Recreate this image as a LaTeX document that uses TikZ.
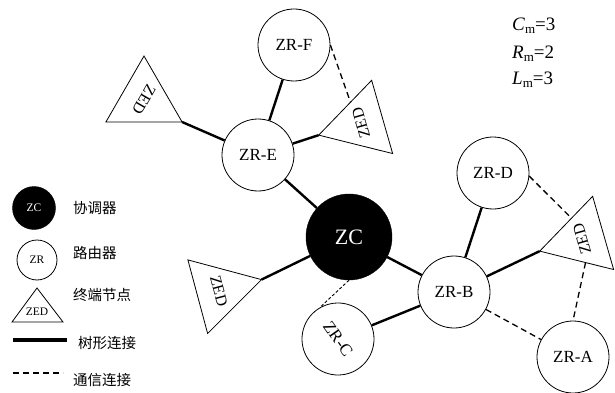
\documentclass[tikz,border=0pt]{standalone}
\usepackage{fontspec}
\setmainfont{Liberation Serif}
\newfontfamily\cjk{Noto Sans CJK SC}
\usetikzlibrary{shapes.geometric,calc}
\begin{document}
\begin{tikzpicture}[x=1pt,y=-1pt,
  router/.style={circle,draw,line width=0.8pt,minimum size=72pt,inner sep=0pt,font=\fontsize{17}{17}\selectfont},
  coord/.style={circle,draw,fill=black,minimum size=86pt,inner sep=0pt,text=white,font=\fontsize{22}{22}\selectfont},
  zed/.style={regular polygon,regular polygon sides=3,draw,line width=0.8pt,minimum size=72pt,inner sep=0pt,outer sep=0pt,font=\fontsize{16}{16}\selectfont},
  tree/.style={line width=2.4pt},
  comm/.style={line width=1.3pt,dash pattern=on 6pt off 4pt},
  fine/.style={line width=0.9pt,dash pattern=on 3pt off 2pt},
  legtext/.style={anchor=west,font=\cjk\fontsize{14.5}{14.5}\selectfont,inner sep=0pt},
  legsmall/.style={font=\fontsize{11.5}{11.5}\selectfont},
  param/.style={anchor=west,inner sep=0pt,font=\fontsize{19}{19}\selectfont}
]
\useasboundingbox (0,0) rectangle (615,393);

% main nodes
\node[router] (zrf) at (294,45) {ZR-F};
\node[router] (zre) at (258,155) {ZR-E};
\node[coord] (zc) at (349,237) {ZC};
\node[router] (zrb) at (454,292) {ZR-B};
\node[router,rotate=-55] (zrc) at (338,339) {ZR-C};
\node[router] (zra) at (573,357) {ZR-A};
\node[router] (zrd) at (493,173) {ZR-D};
\node[zed,rotate=240] (t1) at (144,100) {ZED};
\node[zed,rotate=106] (t2) at (361,123) {ZED};
\node[zed,rotate=-75] (t3) at (219,291) {ZED};
\node[zed,rotate=106] (t4) at (582,239) {ZED};

% tree links
\draw[tree] (zrf) -- (zre);
\draw[tree] (zre) -- (t1.corner 1);
\draw[tree] (zre) -- (t2.corner 1);
\draw[tree] (zre) -- (zc);
\draw[tree] (zc) -- (t3.corner 1);
\draw[tree] (zc) -- (zrb);
\draw[tree] (zrb) -- (zrd);
\draw[tree] (zrb) -- (zrc);
\draw[tree] (zrb) -- (t4.corner 1);

% communication links
\draw[comm] (zrf.east) -- ($(t2.corner 1)!0.6!(t2.corner 3)$);
\draw[comm] (zrd.-5) -- ($(t4.corner 1)!0.6!(t4.corner 3)$);
\draw[comm] ($(t4.corner 1)!0.62!(t4.corner 2)$) -- (zra.north);
\draw[comm] (zrb) -- (zra);
\draw[fine] (zc.south) -- (zrc.175);

% parameters
\node[param] (pc) at (512,26) {\textit{C}\raisebox{-0.3ex}{\fontsize{13}{13}\selectfont m}=3};
\node[param] (pr) at (512,54) {\textit{R}\raisebox{-0.3ex}{\fontsize{13}{13}\selectfont m}=2};
\node[param] (pl) at (512,80) {\textit{L}\raisebox{-0.3ex}{\fontsize{13}{13}\selectfont m}=3};

% legend
\node[coord,minimum size=43pt,legsmall] (lzc) at (34,208) {ZC};
\node[router,minimum size=40pt,legsmall] (lzr) at (37,260) {ZR};
\coordinate (la) at (37,288);
\coordinate (lb) at (12,322);
\coordinate (lc) at (63,322);
\draw[line width=0.8pt] (la) -- (lb) -- (lc) -- cycle;
\node[legsmall,inner sep=0pt] (lzed) at (37,312) {ZED};
\coordinate (lt1) at (13,340);
\coordinate (lt2) at (67,340);
\draw[line width=4pt] (lt1) -- (lt2);
\coordinate (ld1) at (13,373);
\coordinate (ld2) at (63,373);
\draw[comm] (ld1) -- (ld2);

\node[legtext] (l1) at (73,208) {协调器};
\node[legtext] (l2) at (73,253) {路由器};
\node[legtext] (l3) at (73,295) {终端节点};
\node[legtext] (l4) at (78,343) {树形连接};
\node[legtext] (l5) at (73,380) {通信连接};
\end{tikzpicture}
\end{document}
